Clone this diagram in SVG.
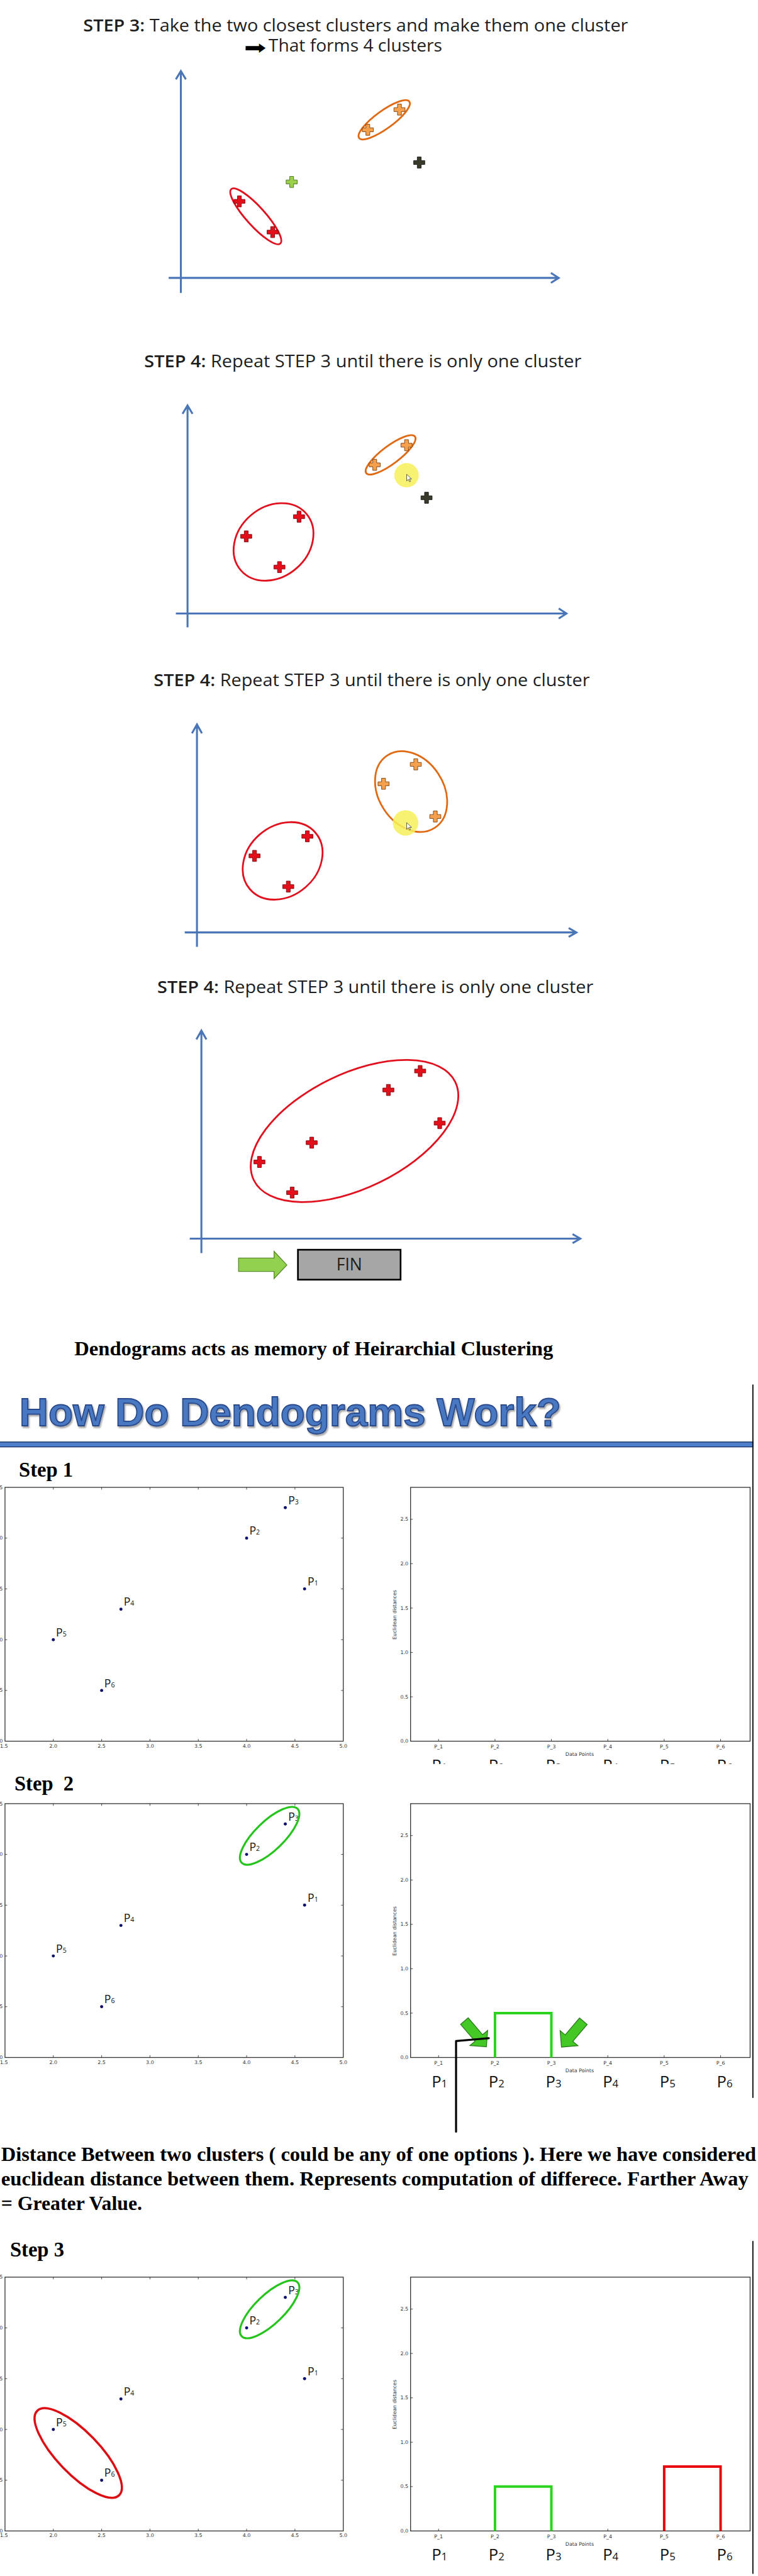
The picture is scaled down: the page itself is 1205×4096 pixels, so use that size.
<svg xmlns="http://www.w3.org/2000/svg" width="1205" height="4096" viewBox="0 0 1205 4096">
<defs>
<style>
.ttl{font-family:"Open Sans","Noto Sans","DejaVu Sans",sans-serif;font-size:30px;fill:#1e1e1e}
.ax{stroke:#4a76b8;stroke-width:3.5;fill:none}
.red{fill:#e3101c;stroke:#7a0008;stroke-width:1}
.org{fill:#f5a04c;stroke:#7a3c0a;stroke-width:1}
.grn{fill:#9ad04a;stroke:#46681c;stroke-width:1}
.blk{fill:#3b3b2c;stroke:#111;stroke-width:1}
.er{fill:none;stroke:#e0101e;stroke-width:3.2}
.eo{fill:none;stroke:#e06a14;stroke-width:3.2}
.hl{fill:#f7f05a;opacity:0.85}
.cur{fill:#fff;stroke:#222;stroke-width:0.8}
.serif{font-family:"Liberation Serif","Times New Roman",serif;font-weight:bold;fill:#000}
.frame{fill:none;stroke:#333;stroke-width:1.5}
.tk{stroke:#333;stroke-width:1;fill:none}
.sm{font-family:"DejaVu Sans",sans-serif;font-size:9px;fill:#333}
.pt{fill:#0b0b6b}
.pl{font-family:"Open Sans","Noto Sans",sans-serif;font-size:20px;fill:#111}
.ps{font-size:12px}
.bp{font-family:"Open Sans","Noto Sans",sans-serif;font-size:29px;fill:#111}
.bs{font-size:19px}
.ge{fill:none;stroke:#25c41c;stroke-width:3.6}
.re{fill:none;stroke:#dd0d14;stroke-width:4}
.gb{fill:none;stroke:#2ad41c;stroke-width:4.5}
.rb{fill:none;stroke:#e8000c;stroke-width:4.5}
.garr{fill:#44c825;stroke:#2b7d1b;stroke-width:1.5}
</style>
<path id="plus" d="M-3.5,-10h7v6.5h6.5v7h-6.5v6.5h-7v-6.5h-6.5v-7h6.5z"/>
<polygon id="cursor" points="0,0 0,12 3,9.2 5.2,13.6 7,12.7 4.9,8.5 8.8,8.5"/>
<filter id="shadow" x="-5%" y="-20%" width="110%" height="150%">
<feDropShadow dx="2" dy="3" stdDeviation="1.5" flood-color="#000" flood-opacity="0.35"/>
</filter>
<clipPath id="cut1" clipPathUnits="userSpaceOnUse"><rect x="700" y="400" width="700" height="98.6"/></clipPath>
</defs>
<rect width="1205" height="4096" fill="#fff"/>
<g transform="scale(0.882)">

<!-- Panel 1 -->
<g id="panel-step3">
<text class="ttl" x="150" y="57" textLength="982" lengthAdjust="spacingAndGlyphs"><tspan font-weight="600">STEP 3:</tspan> Take the two closest clusters and make them one cluster</text>
<text x="440" y="98" font-family="DejaVu Sans, sans-serif" font-size="34" textLength="40" lengthAdjust="spacingAndGlyphs" fill="#000">➡</text>
<text class="ttl" x="484" y="93.5" textLength="313" lengthAdjust="spacingAndGlyphs">That forms 4 clusters</text>
<path class="ax" d="M326,128V528M317,143L326,128L335,143M304,501H1007M993,492L1007,501L993,510"/>
<ellipse class="eo" cx="692.5" cy="216" rx="56" ry="16" transform="rotate(-36 692.5 216)"/>
<use href="#plus" class="org" x="720" y="197.6"/>
<use href="#plus" class="org" x="663" y="234"/>
<use href="#plus" class="blk" x="755.6" y="293"/>
<use href="#plus" class="grn" x="525.7" y="328"/>
<ellipse class="er" cx="461" cy="390" rx="66" ry="17" transform="rotate(48 461 390)"/>
<use href="#plus" class="red" x="431.5" y="363"/>
<use href="#plus" class="red" x="491.4" y="418.4"/>
</g>

<!-- Panel 2 -->
<g id="panel-step4a">
<text class="ttl" x="260" y="662" textLength="788" lengthAdjust="spacingAndGlyphs"><tspan font-weight="600">STEP 4:</tspan> Repeat STEP 3 until there is only one cluster</text>
<path class="ax" d="M338,731V1131M329,746L338,731L347,746M317,1106H1021M1007,1097L1021,1106L1007,1115"/>
<ellipse class="eo" cx="704" cy="820" rx="55" ry="16" transform="rotate(-37 704 820)"/>
<use href="#plus" class="org" x="732.7" y="802.6"/>
<use href="#plus" class="org" x="675.4" y="838"/>
<circle class="hl" cx="732.7" cy="856.8" r="22"/>
<use href="#cursor" class="cur" x="733" y="855"/>
<use href="#plus" class="blk" x="768.8" y="897.4"/>
<ellipse class="er" cx="493" cy="977" rx="78" ry="63" transform="rotate(-41 493 977)"/>
<use href="#plus" class="red" x="539" y="931.5"/>
<use href="#plus" class="red" x="443.8" y="967"/>
<use href="#plus" class="red" x="503.7" y="1022.4"/>
</g>

<!-- Panel 3 -->
<g id="panel-step4b">
<text class="ttl" x="277" y="1237" textLength="786" lengthAdjust="spacingAndGlyphs"><tspan font-weight="600">STEP 4:</tspan> Repeat STEP 3 until there is only one cluster</text>
<path class="ax" d="M355,1306V1707M346,1322L355,1306L364,1322M333,1681H1039M1025,1673L1039,1681L1025,1689"/>
<ellipse class="eo" cx="741" cy="1427" rx="78" ry="58.5" transform="rotate(56.7 741 1427)"/>
<use href="#plus" class="org" x="749.4" y="1378"/>
<use href="#plus" class="org" x="691.3" y="1413"/>
<use href="#plus" class="org" x="784.6" y="1472"/>
<circle class="hl" cx="731" cy="1483.5" r="23"/>
<use href="#cursor" class="cur" x="733" y="1483"/>
<ellipse class="er" cx="509.4" cy="1552" rx="78" ry="63" transform="rotate(-41 509.4 1552)"/>
<use href="#plus" class="red" x="554" y="1507.7"/>
<use href="#plus" class="red" x="458.8" y="1543"/>
<use href="#plus" class="red" x="519.6" y="1598.4"/>
</g>

<!-- Panel 4 -->
<g id="panel-step4c">
<text class="ttl" x="283.5" y="1790" textLength="786" lengthAdjust="spacingAndGlyphs"><tspan font-weight="600">STEP 4:</tspan> Repeat STEP 3 until there is only one cluster</text>
<path class="ax" d="M363,1858V2259M354,1874L363,1858L372,1874M342,2233H1046M1032,2225L1046,2233L1032,2241"/>
<ellipse class="er" cx="639" cy="2039" rx="202" ry="103" transform="rotate(-26 639 2039)"/>
<use href="#plus" class="red" x="757.3" y="1930.8"/>
<use href="#plus" class="red" x="700" y="1965"/>
<use href="#plus" class="red" x="792.5" y="2024.8"/>
<use href="#plus" class="red" x="561.8" y="2060"/>
<use href="#plus" class="red" x="467.6" y="2094.8"/>
<use href="#plus" class="red" x="526.6" y="2150"/>
<g id="fin-arrow"><polygon points="430,2268 494,2268 494,2256 517,2280.5 494,2305 494,2292 430,2292" fill="#92d050" stroke="#5a8a2a" stroke-width="1.5"/></g>
<g id="fin-box"><rect x="537" y="2253" width="185" height="54" fill="#a6a6a6" stroke="#000" stroke-width="3"/>
<text class="ttl" x="629.5" y="2290" text-anchor="middle" fill="#111">FIN</text></g>
</g>

<!-- Dendogram intro -->
<text class="serif" x="134" y="2443" font-size="36" textLength="863" lengthAdjust="spacingAndGlyphs">Dendograms acts as memory of Heirarchial Clustering</text>
<g id="header">
<text x="35" y="2570" font-family="Liberation Sans, Arial, sans-serif" font-weight="bold" font-size="72" fill="#4a78c2" stroke="#2a4a8a" stroke-width="2" textLength="976" lengthAdjust="spacingAndGlyphs" filter="url(#shadow)">How Do Dendograms Work?</text>
<rect x="0" y="2599" width="1358" height="10" fill="#4f7fc8"/>
<path d="M0,2599.7H1358M0,2608.3H1358" stroke="#142f66" stroke-width="1.4"/>
</g>
<path d="M1357,2496V3782M1357,4040V4640" stroke="#000" stroke-width="2"/>

<!-- Step 1 -->
<text class="serif" x="34" y="2662.6" font-size="37">Step 1</text>
<g id="step1-scatter" transform="translate(0,2681.4)">
<rect class="frame" x="9" y="0" width="609.7" height="457.6"/>
<path class="tk" d="M96.1 457.6v-4M183.2 457.6v-4M270.3 457.6v-4M357.4 457.6v-4M444.5 457.6v-4M531.6 457.6v-4M96.1 0v4M183.2 0v4M270.3 0v4M357.4 0v4M444.5 0v4M531.6 0v4M9 91.5h4M9 183h4M9 274.6h4M9 366.1h4M618.7 91.5h-4M618.7 183h-4M618.7 274.6h-4M618.7 366.1h-4"/>
<g class="sm" text-anchor="middle"><text x="7" y="469">1.5</text><text x="96.1" y="469">2.0</text><text x="183.2" y="469">2.5</text><text x="270.3" y="469">3.0</text><text x="357.4" y="469">3.5</text><text x="444.5" y="469">4.0</text><text x="531.6" y="469">4.5</text><text x="618.7" y="469">5.0</text></g>
<g class="sm"><text x="-1" y="3">5</text><text x="-1" y="94.5">0</text><text x="-1" y="186">5</text><text x="-1" y="277.6">0</text><text x="-1" y="369">5</text><text x="-1" y="460.6">0</text></g>
<circle class="pt" cx="549" cy="183" r="2.8"/><circle class="pt" cx="444.5" cy="91.5" r="2.8"/><circle class="pt" cx="514.2" cy="36.6" r="2.8"/><circle class="pt" cx="218" cy="219.6" r="2.8"/><circle class="pt" cx="96.1" cy="274.6" r="2.8"/><circle class="pt" cx="183.2" cy="366.1" r="2.8"/>
<text class="pl" x="554.5" y="177">P<tspan class="ps">1</tspan></text>
<text class="pl" x="449.5" y="85.5">P<tspan class="ps">2</tspan></text>
<text class="pl" x="519.5" y="30.5">P<tspan class="ps">3</tspan></text>
<text class="pl" x="223" y="213.5">P<tspan class="ps">4</tspan></text>
<text class="pl" x="101" y="268.5">P<tspan class="ps">5</tspan></text>
<text class="pl" x="188" y="360">P<tspan class="ps">6</tspan></text>
</g>
<g id="step1-dendro" transform="translate(0,2681.4)">
<rect class="frame" x="740" y="0" width="612" height="457.6"/>
<path class="tk" d="M740 57.6h4M740 137.6h4M740 217.6h4M740 297.6h4M740 377.6h4M790.5 457.6v-4M892.2 457.6v-4M993.8 457.6v-4M1095.5 457.6v-4M1197.1 457.6v-4M1298.8 457.6v-4"/>
<g class="sm" text-anchor="end"><text x="736" y="60.6">2.5</text><text x="736" y="140.6">2.0</text><text x="736" y="220.6">1.5</text><text x="736" y="300.6">1.0</text><text x="736" y="380.6">0.5</text><text x="736" y="460.6">0.0</text></g>
<text class="sm" transform="translate(714,229.6) rotate(-90)" text-anchor="middle">Euclidean distances</text>
<g class="sm" text-anchor="middle"><text x="790.5" y="471">P_1</text><text x="892.2" y="471">P_2</text><text x="993.8" y="471">P_3</text><text x="1095.5" y="471">P_4</text><text x="1197.1" y="471">P_5</text><text x="1298.8" y="471">P_6</text>
<text x="1044.7" y="484.5">Data Points</text></g>
<g clip-path="url(#cut1)">
<text class="bp" x="778" y="511">P<tspan class="bs">1</tspan></text>
<text class="bp" x="880.8" y="511">P<tspan class="bs">2</tspan></text>
<text class="bp" x="983.6" y="511">P<tspan class="bs">3</tspan></text>
<text class="bp" x="1086.4" y="511">P<tspan class="bs">4</tspan></text>
<text class="bp" x="1189.2" y="511">P<tspan class="bs">5</tspan></text>
<text class="bp" x="1292" y="511">P<tspan class="bs">6</tspan></text>
</g>
</g>

<!-- Step 2 -->
<text class="serif" x="26" y="3228.4" font-size="37" xml:space="preserve">Step  2</text>
<g id="step2-scatter" transform="translate(0,3251.6)">
<rect class="frame" x="9" y="0" width="609.7" height="457.6"/>
<path class="tk" d="M96.1 457.6v-4M183.2 457.6v-4M270.3 457.6v-4M357.4 457.6v-4M444.5 457.6v-4M531.6 457.6v-4M96.1 0v4M183.2 0v4M270.3 0v4M357.4 0v4M444.5 0v4M531.6 0v4M9 91.5h4M9 183h4M9 274.6h4M9 366.1h4M618.7 91.5h-4M618.7 183h-4M618.7 274.6h-4M618.7 366.1h-4"/>
<g class="sm" text-anchor="middle"><text x="7" y="469">1.5</text><text x="96.1" y="469">2.0</text><text x="183.2" y="469">2.5</text><text x="270.3" y="469">3.0</text><text x="357.4" y="469">3.5</text><text x="444.5" y="469">4.0</text><text x="531.6" y="469">4.5</text><text x="618.7" y="469">5.0</text></g>
<g class="sm"><text x="-1" y="3">5</text><text x="-1" y="94.5">0</text><text x="-1" y="186">5</text><text x="-1" y="277.6">0</text><text x="-1" y="369">5</text><text x="-1" y="460.6">0</text></g>
<circle class="pt" cx="549" cy="183" r="2.8"/><circle class="pt" cx="444.5" cy="91.5" r="2.8"/><circle class="pt" cx="514.2" cy="36.6" r="2.8"/><circle class="pt" cx="218" cy="219.6" r="2.8"/><circle class="pt" cx="96.1" cy="274.6" r="2.8"/><circle class="pt" cx="183.2" cy="366.1" r="2.8"/>
<text class="pl" x="554.5" y="177">P<tspan class="ps">1</tspan></text>
<text class="pl" x="449.5" y="85.5">P<tspan class="ps">2</tspan></text>
<text class="pl" x="519.5" y="30.5">P<tspan class="ps">3</tspan></text>
<text class="pl" x="223" y="213.5">P<tspan class="ps">4</tspan></text>
<text class="pl" x="101" y="268.5">P<tspan class="ps">5</tspan></text>
<text class="pl" x="188" y="360">P<tspan class="ps">6</tspan></text>
<ellipse class="ge" cx="486" cy="58" rx="70" ry="26" transform="rotate(-44 486 58)"/>
</g>
<g id="step2-dendro" transform="translate(0,3251.6)">
<rect class="frame" x="740" y="0" width="612" height="457.6"/>
<path class="tk" d="M740 57.6h4M740 137.6h4M740 217.6h4M740 297.6h4M740 377.6h4M790.5 457.6v-4M892.2 457.6v-4M993.8 457.6v-4M1095.5 457.6v-4M1197.1 457.6v-4M1298.8 457.6v-4"/>
<g class="sm" text-anchor="end"><text x="736" y="60.6">2.5</text><text x="736" y="140.6">2.0</text><text x="736" y="220.6">1.5</text><text x="736" y="300.6">1.0</text><text x="736" y="380.6">0.5</text><text x="736" y="460.6">0.0</text></g>
<text class="sm" transform="translate(714,229.6) rotate(-90)" text-anchor="middle">Euclidean distances</text>
<g class="sm" text-anchor="middle"><text x="790.5" y="471">P_1</text><text x="892.2" y="471">P_2</text><text x="993.8" y="471">P_3</text><text x="1095.5" y="471">P_4</text><text x="1197.1" y="471">P_5</text><text x="1298.8" y="471">P_6</text>
<text x="1044.7" y="484.5">Data Points</text></g>
<text class="bp" x="778" y="511">P<tspan class="bs">1</tspan></text>
<text class="bp" x="880.8" y="511">P<tspan class="bs">2</tspan></text>
<text class="bp" x="983.6" y="511">P<tspan class="bs">3</tspan></text>
<text class="bp" x="1086.4" y="511">P<tspan class="bs">4</tspan></text>
<text class="bp" x="1189.2" y="511">P<tspan class="bs">5</tspan></text>
<text class="bp" x="1292" y="511">P<tspan class="bs">6</tspan></text>
<path class="gb" d="M892.2,457.6V377.6H993.8V457.6"/>
</g>
<g id="step2-arrows">
<polygon class="garr" points="0,-9 40,-9 40,-21 61,0 40,21 40,9 0,9" transform="translate(837,3643.6) rotate(49.5)"/>
<polygon class="garr" points="0,-9 40,-9 40,-21 61,0 40,21 40,9 0,9" transform="translate(1051.4,3643.8) rotate(130.2)"/>
</g>
<g id="connectors">
<polyline points="822,3843 822,3679.5 881,3674.5" fill="none" stroke="#000" stroke-width="3.6" stroke-linecap="round" stroke-linejoin="round"/>
</g>

<!-- Distance text -->
<g id="distance-note" class="serif" font-size="36">
<text x="2" y="3896" textLength="1361" lengthAdjust="spacingAndGlyphs">Distance Between two clusters ( could be any of one options ). Here we have considered</text>
<text x="2" y="3940" textLength="1347" lengthAdjust="spacingAndGlyphs">euclidean distance between them. Represents computation of differece. Farther Away</text>
<text x="2" y="3984">= Greater Value.</text>
</g>

<!-- Step 3 -->
<text class="serif" x="18" y="4068" font-size="37">Step 3</text>
<g id="step3-scatter" transform="translate(0,4105.2)">
<rect class="frame" x="9" y="0" width="609.7" height="457.6"/>
<path class="tk" d="M96.1 457.6v-4M183.2 457.6v-4M270.3 457.6v-4M357.4 457.6v-4M444.5 457.6v-4M531.6 457.6v-4M96.1 0v4M183.2 0v4M270.3 0v4M357.4 0v4M444.5 0v4M531.6 0v4M9 91.5h4M9 183h4M9 274.6h4M9 366.1h4M618.7 91.5h-4M618.7 183h-4M618.7 274.6h-4M618.7 366.1h-4"/>
<g class="sm" text-anchor="middle"><text x="7" y="469">1.5</text><text x="96.1" y="469">2.0</text><text x="183.2" y="469">2.5</text><text x="270.3" y="469">3.0</text><text x="357.4" y="469">3.5</text><text x="444.5" y="469">4.0</text><text x="531.6" y="469">4.5</text><text x="618.7" y="469">5.0</text></g>
<g class="sm"><text x="-1" y="3">5</text><text x="-1" y="94.5">0</text><text x="-1" y="186">5</text><text x="-1" y="277.6">0</text><text x="-1" y="369">5</text><text x="-1" y="460.6">0</text></g>
<circle class="pt" cx="549" cy="183" r="2.8"/><circle class="pt" cx="444.5" cy="91.5" r="2.8"/><circle class="pt" cx="514.2" cy="36.6" r="2.8"/><circle class="pt" cx="218" cy="219.6" r="2.8"/><circle class="pt" cx="96.1" cy="274.6" r="2.8"/><circle class="pt" cx="183.2" cy="366.1" r="2.8"/>
<text class="pl" x="554.5" y="177">P<tspan class="ps">1</tspan></text>
<text class="pl" x="449.5" y="85.5">P<tspan class="ps">2</tspan></text>
<text class="pl" x="519.5" y="30.5">P<tspan class="ps">3</tspan></text>
<text class="pl" x="223" y="213.5">P<tspan class="ps">4</tspan></text>
<text class="pl" x="101" y="268.5">P<tspan class="ps">5</tspan></text>
<text class="pl" x="188" y="360">P<tspan class="ps">6</tspan></text>
<ellipse class="ge" cx="486" cy="58" rx="70" ry="26" transform="rotate(-44 486 58)"/>
<ellipse class="re" cx="141" cy="317" rx="106" ry="38" transform="rotate(46 141 317)"/>
</g>
<g id="step3-dendro" transform="translate(0,4105.2)">
<rect class="frame" x="740" y="0" width="612" height="457.6"/>
<path class="tk" d="M740 57.6h4M740 137.6h4M740 217.6h4M740 297.6h4M740 377.6h4M790.5 457.6v-4M892.2 457.6v-4M993.8 457.6v-4M1095.5 457.6v-4M1197.1 457.6v-4M1298.8 457.6v-4"/>
<g class="sm" text-anchor="end"><text x="736" y="60.6">2.5</text><text x="736" y="140.6">2.0</text><text x="736" y="220.6">1.5</text><text x="736" y="300.6">1.0</text><text x="736" y="380.6">0.5</text><text x="736" y="460.6">0.0</text></g>
<text class="sm" transform="translate(714,229.6) rotate(-90)" text-anchor="middle">Euclidean distances</text>
<g class="sm" text-anchor="middle"><text x="790.5" y="471">P_1</text><text x="892.2" y="471">P_2</text><text x="993.8" y="471">P_3</text><text x="1095.5" y="471">P_4</text><text x="1197.1" y="471">P_5</text><text x="1298.8" y="471">P_6</text>
<text x="1044.7" y="484.5">Data Points</text></g>
<text class="bp" x="778" y="511">P<tspan class="bs">1</tspan></text>
<text class="bp" x="880.8" y="511">P<tspan class="bs">2</tspan></text>
<text class="bp" x="983.6" y="511">P<tspan class="bs">3</tspan></text>
<text class="bp" x="1086.4" y="511">P<tspan class="bs">4</tspan></text>
<text class="bp" x="1189.2" y="511">P<tspan class="bs">5</tspan></text>
<text class="bp" x="1292" y="511">P<tspan class="bs">6</tspan></text>
<path class="gb" d="M892.2,457.6V377.6H993.8V457.6"/>
<path class="rb" d="M1197.1,457.6V341.6H1298.8V457.6"/>
</g>
</g>
</svg>
